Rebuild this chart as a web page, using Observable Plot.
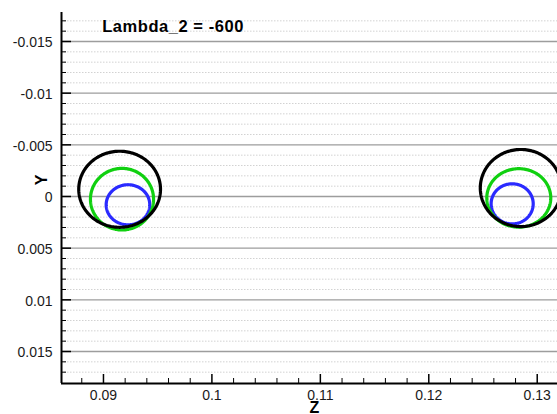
<!DOCTYPE html>
<html>
<head>
<meta charset="utf-8">
<script src="https://cdn.jsdelivr.net/npm/d3@7"></script>
<script src="https://cdn.jsdelivr.net/npm/@observablehq/plot@0.6"></script>
<style>
  html, body { margin: 0; padding: 0; background: #fff; }
</style>
</head>
<body>
<div id="chart"></div>
<script>
// ---- data ----
const titleText = "Lambda_2 = -600";
const xLabel = "Z";
const yLabel = "Y";

const xDomain = [0.08613, 0.13187];
const yDomain = [-0.017806, 0.018097];

const xMajorTicks = [0.09, 0.10, 0.11, 0.12, 0.13];
const xTickLabels = ["0.09", "0.1", "0.11", "0.12", "0.13"];
const xMinorTicks = [0.088, 0.092, 0.094, 0.096, 0.098, 0.102, 0.104, 0.106, 0.108,
                     0.112, 0.114, 0.116, 0.118, 0.122, 0.124, 0.126, 0.128];

const yMajorTicks = [-0.015, -0.01, -0.005, 0, 0.005, 0.01, 0.015];
const yTickLabels = ["-0.015", "-0.01", "-0.005", "0", "0.005", "0.01", "0.015"];
const yMinorTicks = [-0.017, -0.016, -0.014, -0.013, -0.012, -0.011, -0.009, -0.008, -0.007, -0.006,
                     -0.004, -0.003, -0.002, -0.001, 0.001, 0.002, 0.003, 0.004,
                     0.006, 0.007, 0.008, 0.009, 0.011, 0.012, 0.013, 0.014, 0.016, 0.017];

// circles (inner to outer, left group then right group)
const seriesNames = ["inner", "middle", "outer"];
const circleSeries = ["inner", "middle", "outer", "inner", "middle", "outer"];
const centerZ = [0.09226, 0.09171, 0.09149, 0.12769, 0.12830, 0.12849];
const centerY = [0.00080, 0.00026, -0.00070, 0.00071, 0.00014, -0.00082];
const radiusZ = [0.00201, 0.00291, 0.00377, 0.00194, 0.00295, 0.00374];
const radiusY = [0.00194, 0.00298, 0.00368, 0.00194, 0.00283, 0.00373];

// ---- build circle outlines from center/radius parameters ----
const N = 180;
const circlePts = [];
centerZ.forEach((cz, i) => {
  for (let k = 0; k <= N; k++) {
    const t = (2 * Math.PI * k) / N;
    circlePts.push({
      id: i,
      series: circleSeries[i],
      z: cz + radiusZ[i] * Math.cos(t),
      y: centerY[i] + radiusY[i] * Math.sin(t)
    });
  }
});

const W = 557, H = 414;
const mL = 61, mR = 0, mT = 12, mB = 31;
const plotW = W - mL - mR, plotH = H - mT - mB;
const font = "'Liberation Sans', Arial, Helvetica, sans-serif";

const chart = Plot.plot({
  width: W,
  height: H,
  marginLeft: mL,
  marginRight: mR,
  marginTop: mT,
  marginBottom: mB,
  style: { fontFamily: font, background: "#fff", overflow: "hidden" },
  x: { domain: xDomain, axis: null },
  y: { domain: yDomain, reverse: true, axis: null },
  color: { type: "ordinal", domain: seriesNames, range: ["#2a2aff", "#10d010", "#000000"] },
  marks: [
    // minor horizontal grid (dotted)
    Plot.ruleY(yMinorTicks, { stroke: "#d2d2d2", strokeWidth: 1, strokeDasharray: "1.5,1.5" }),
    // major horizontal grid
    Plot.ruleY(yMajorTicks, { stroke: "#9d9d9d", strokeWidth: 1.4 }),
    // circles
    Plot.line(circlePts, { x: "z", y: "y", z: "id", stroke: "series", strokeWidth: 3.2, clip: true }),
    // y-axis ticks (inward)
    Plot.tickY(yMajorTicks, { y: d => d, stroke: "#000", strokeWidth: 1.5, insetRight: plotW - 10 }),
    Plot.tickY(yMinorTicks, { y: d => d, stroke: "#000", strokeWidth: 1, insetRight: plotW - 5 }),
    // x-axis ticks (inward)
    Plot.tickX(xMajorTicks, { x: d => d, stroke: "#000", strokeWidth: 1.5, insetTop: plotH - 9 }),
    Plot.tickX(xMinorTicks, { x: d => d, stroke: "#000", strokeWidth: 1, insetTop: plotH - 5 }),
    // axis lines
    Plot.ruleX([xDomain[0]], { stroke: "#000", strokeWidth: 2 }),
    Plot.ruleY([yDomain[1]], { stroke: "#000", strokeWidth: 2 }),
    // y tick labels
    Plot.text(yMajorTicks, {
      y: d => d, text: (d, i) => yTickLabels[i], frameAnchor: "left",
      textAnchor: "end", lineAnchor: "middle", dx: -9, dy: 1.5,
      fontSize: 14, fill: "#1a1a1a"
    }),
    // x tick labels
    Plot.text(xMajorTicks, {
      x: d => d, text: (d, i) => xTickLabels[i], frameAnchor: "bottom",
      textAnchor: "middle", lineAnchor: "top", dy: 7,
      fontSize: 14, fill: "#1a1a1a"
    }),
    // axis titles
    Plot.text([xLabel], {
      text: d => d, frameAnchor: "bottom", textAnchor: "middle", lineAnchor: "top",
      dx: 5, dy: 18, fontSize: 16, fontWeight: "bold", fill: "#000"
    }),
    Plot.text([yLabel], {
      text: d => d, frameAnchor: "left", textAnchor: "middle", lineAnchor: "middle",
      rotate: -90, dx: -20, dy: -18, fontSize: 16, fontWeight: "bold", fill: "#000"
    }),
    // title inside the plot
    Plot.text([titleText], {
      text: d => d, frameAnchor: "top-left", textAnchor: "start", lineAnchor: "top",
      dx: 40.7, dy: 7.3, fontSize: 16.5, fontWeight: "bold", fill: "#000"
    })
  ]
});

// widen the title's letter spacing to match the reference
d3.select(chart).selectAll("text")
  .filter(function () { return this.textContent === titleText; })
  .attr("letter-spacing", "0.55px");

document.getElementById("chart").appendChild(chart);
</script>
</body>
</html>
